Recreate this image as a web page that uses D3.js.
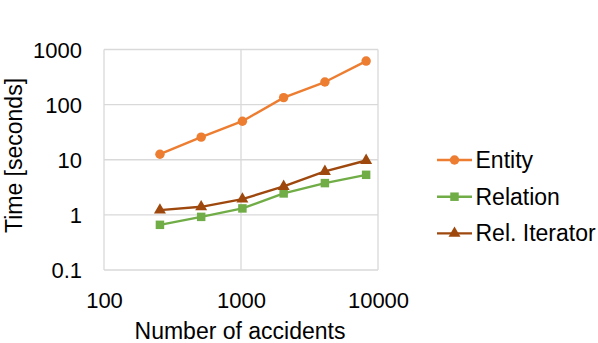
<!DOCTYPE html>
<html>
<head>
<meta charset="utf-8">
<script src="https://cdn.jsdelivr.net/npm/d3@7"></script>
<style>
  body { margin: 0; background: #fff; }
  text { font-family: "Liberation Sans", Arial, sans-serif; fill: #000; }
</style>
</head>
<body>
<svg id="chart" width="598" height="343"></svg>
<script>
// data
let accidents = [256, 512, 1024, 2048, 4096, 8192];
let entity = [12.6, 25.7, 50, 134, 257, 617];
let relation = [0.66, 0.92, 1.31, 2.45, 3.77, 5.33];
let relIterator = [1.22, 1.40, 1.93, 3.28, 6.14, 9.7];
let seriesNames = ["Entity", "Relation", "Rel. Iterator"];
let xTicks = [100, 1000, 10000];
let yTicks = [0.1, 1, 10, 100, 1000];

let series = [
  {name: seriesNames[0], values: entity, color: "#ED7D31", shape: d3.symbolCircle, size: 70},
  {name: seriesNames[1], values: relation, color: "#70AD47", shape: d3.symbolSquare, size: 72},
  {name: seriesNames[2], values: relIterator, color: "#9E480E", shape: d3.symbolTriangle, size: 62}
];

let svg = d3.select("#chart");
let plotLeft = 104, plotRight = 378, plotTop = 49.5, plotBottom = 270;

let xScale = d3.scaleLog().domain([100, 10000]).range([plotLeft, plotRight]);
let yScale = d3.scaleLog().domain([0.1, 1000]).range([plotBottom, plotTop]);

// gridlines
let grid = svg.append("g");
grid.selectAll("line.h")
  .data(yTicks)
  .enter()
  .append("line")
  .attr("x1", plotLeft).attr("x2", plotRight)
  .attr("y1", d => yScale(d)).attr("y2", d => yScale(d))
  .style("stroke", "#D9D9D9").style("stroke-width", "1.3px");
grid.selectAll("line.v")
  .data(xTicks)
  .enter()
  .append("line")
  .attr("y1", plotTop).attr("y2", plotBottom)
  .attr("x1", d => xScale(d)).attr("x2", d => xScale(d))
  .style("stroke", "#D9D9D9").style("stroke-width", "1.3px");

// axes (labels only)
let yAxis = d3.axisLeft(yScale).tickValues(yTicks).tickFormat(d3.format("~g")).tickSize(0).tickPadding(22);
let gY = svg.append("g").attr("transform", `translate(${plotLeft},0)`).call(yAxis);
gY.select(".domain").remove();
gY.selectAll("text").style("font-size", "22px").attr("dy", "0.35em");

let xAxis = d3.axisBottom(xScale).tickValues(xTicks).tickFormat(d3.format("d")).tickSize(0).tickPadding(22.5);
let gX = svg.append("g").attr("transform", `translate(0,${plotBottom})`).call(xAxis);
gX.select(".domain").remove();
gX.selectAll("text").style("font-size", "22px");

// axis titles
svg.append("text")
  .attr("text-anchor", "middle")
  .attr("x", 240)
  .attr("y", 338.5)
  .style("font-size", "23px")
  .text("Number of accidents");
svg.append("text")
  .attr("text-anchor", "middle")
  .attr("transform", "translate(22,155.5) rotate(-90)")
  .style("font-size", "23px")
  .text("Time [seconds]");

// lines and markers
let line = d3.line()
  .x((d, i) => xScale(accidents[i]))
  .y(d => yScale(d));

series.forEach(s => {
  svg.append("path")
    .attr("d", line(s.values))
    .style("fill", "none")
    .style("stroke", s.color)
    .style("stroke-width", "2.4px")
    .style("stroke-linejoin", "round");
  svg.selectAll(null)
    .data(s.values)
    .enter()
    .append("path")
    .attr("d", d3.symbol().type(s.shape).size(s.size))
    .attr("transform", (d, i) => `translate(${xScale(accidents[i])},${yScale(d)})`)
    .style("fill", s.color);
});

// legend
let legend = svg.append("g").attr("transform", "translate(437,160)");
let items = legend.selectAll("g")
  .data(series)
  .enter()
  .append("g")
  .attr("transform", (d, i) => `translate(0,${i * 36.7})`);
items.append("line")
  .attr("x1", 0).attr("x2", 35)
  .style("stroke", d => d.color)
  .style("stroke-width", "2.4px");
items.append("path")
  .attr("d", d => d3.symbol().type(d.shape).size(d.size)())
  .attr("transform", "translate(17.5,0)")
  .style("fill", d => d.color);
items.append("text")
  .attr("x", 38.5)
  .attr("dy", "0.35em")
  .style("font-size", "23px")
  .text(d => d.name);
</script>
</body>
</html>
